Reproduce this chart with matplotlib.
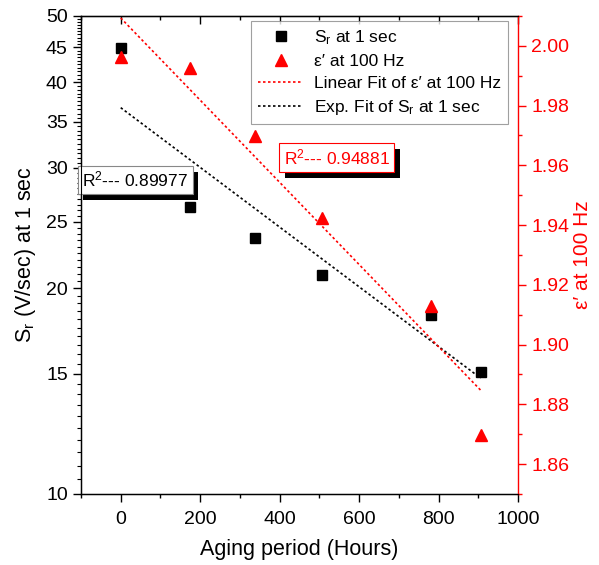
import numpy as np
from matplotlib import pyplot as plt
from matplotlib import patheffects
from matplotlib.ticker import FixedLocator, MultipleLocator, NullFormatter, FuncFormatter

plt.rcParams['font.family'] = ['Liberation Sans', 'DejaVu Sans']
plt.rcParams['mathtext.fontset'] = 'custom'
plt.rcParams['mathtext.rm'] = 'Liberation Sans'
plt.rcParams['mathtext.it'] = 'Liberation Sans:italic'

# aging period (hours)
hours = np.array([0, 175, 337, 507, 780, 906])
# remanent surface potential decay rate S_r (V/sec) at 1 sec
sr = np.array([44.9, 26.3, 23.7, 20.9, 18.3, 15.1])
# dielectric constant at 100 Hz
eps = np.array([1.9963, 1.9927, 1.9699, 1.9423, 1.9130, 1.8698])

sr_ticks = [10, 15, 20, 25, 30, 35, 40, 45, 50]
eps_ticks = [1.86, 1.88, 1.90, 1.92, 1.94, 1.96, 1.98, 2.00]
r2_sr = 'R$^2$--- 0.89977'
r2_eps = 'R$^2$--- 0.94881'

red = '#ff0000'

# fits: linear for eps, exponential (straight on log axis) for S_r
lin = np.polyfit(hours, eps, 1)
expo = np.polyfit(hours, np.log(sr), 1)
xfit = np.linspace(hours.min(), hours.max(), 50)

fig = plt.figure(figsize=(5.99, 5.65), dpi=100)
ax = fig.add_axes([0.1352, 0.1257, 0.7296, 0.8460])
ax2 = ax.twinx()

ax.set_yscale('log')
ax.set_xlim(-100, 1000)
ax.set_ylim(10, 50)
ax2.set_ylim(1.85, 2.01)

s1, = ax.plot(hours, sr, 's', color='k', ms=7, ls='none', label='S$_\\mathrm{r}$ at 1 sec')
f2, = ax.plot(xfit, np.exp(np.polyval(expo, xfit)), color='k', lw=1.2, ls=(0, (1.5, 1.5)),
              label='Exp. Fit of S$_\\mathrm{r}$ at 1 sec')
s2, = ax2.plot(hours, eps, '^', color=red, ms=8, ls='none', label='\u03b5\u2032 at 100 Hz')
f1, = ax2.plot(xfit, np.polyval(lin, xfit), color=red, lw=1.2, ls=(0, (1.5, 1.5)),
               label='Linear Fit of \u03b5\u2032 at 100 Hz')

# left axis
ax.yaxis.set_major_locator(FixedLocator(sr_ticks))
ax.yaxis.set_major_formatter(FuncFormatter(lambda v, p: '%d' % v))
ax.yaxis.set_minor_locator(FixedLocator(np.arange(10, 50.1, 0.5)))
ax.yaxis.set_minor_formatter(NullFormatter())
ax.tick_params(axis='y', which='major', direction='out', length=6, width=1, labelsize=14)
ax.tick_params(axis='y', which='minor', direction='out', length=3, width=0.8)
ax.set_ylabel('S$_\\mathrm{r}$ (V/sec) at 1 sec', fontsize=15.5, labelpad=6)

# x axis
ax.xaxis.set_major_locator(MultipleLocator(200))
ax.xaxis.set_minor_locator(MultipleLocator(100))
ax.tick_params(axis='x', which='major', direction='out', length=6, width=1, labelsize=14, pad=6)
ax.tick_params(axis='x', which='minor', direction='out', length=3, width=1)
ax.set_xlabel('Aging period (Hours)', fontsize=15.5, labelpad=8)

top = ax.secondary_xaxis('top')
top.xaxis.set_major_locator(MultipleLocator(200))
top.xaxis.set_minor_locator(MultipleLocator(100))
top.tick_params(axis='x', which='major', direction='in', length=6, width=1, labeltop=False)
top.tick_params(axis='x', which='minor', direction='in', length=3, width=1)

# right axis
ax2.yaxis.set_major_locator(FixedLocator(eps_ticks))
ax2.yaxis.set_minor_locator(MultipleLocator(0.01))
ax2.yaxis.set_major_formatter(FuncFormatter(lambda v, p: '%.2f' % v))
ax2.tick_params(axis='y', which='major', direction='out', length=6, width=1, labelsize=14,
                colors=red)
ax2.tick_params(axis='y', which='minor', direction='out', length=3, width=1, colors=red)
ax2.spines['right'].set_color(red)
ax.spines['right'].set_visible(False)
ax2.set_ylabel('\u03b5\u2032 at 100 Hz', fontsize=15, color=red, labelpad=3)

for sp in ['left', 'bottom', 'top']:
    ax.spines[sp].set_linewidth(1)
ax2.spines['right'].set_linewidth(1)

# R^2 boxes with a drop shadow
shadow = [patheffects.withSimplePatchShadow(offset=(4, -4.5), shadow_rgbFace='k', alpha=1)]
t1 = ax.text(-97, 28.8, r2_sr, fontsize=12.5, va='center', ha='left', zorder=5,
             bbox=dict(boxstyle='square,pad=0.25', fc='white', ec='#888888', lw=0.8))
t1.get_bbox_patch().set_path_effects(shadow)
t2 = ax2.text(410, 1.9627, r2_eps, fontsize=12.5, va='center', ha='left', color=red, zorder=5,
              bbox=dict(boxstyle='square,pad=0.25', fc='white', ec=red, lw=0.8))
t2.get_bbox_patch().set_path_effects(shadow)

leg = ax2.legend(handles=[s1, s2, f1, f2], loc='upper right', bbox_to_anchor=(0.977, 0.989),
                 borderaxespad=0, fontsize=12.5, frameon=True, fancybox=False,
                 edgecolor='#888888', handlelength=2.6, handletextpad=0.6,
                 labelspacing=0.4, borderpad=0.4)
leg.get_frame().set_linewidth(0.8)

fig.savefig('out.png', dpi=100)
